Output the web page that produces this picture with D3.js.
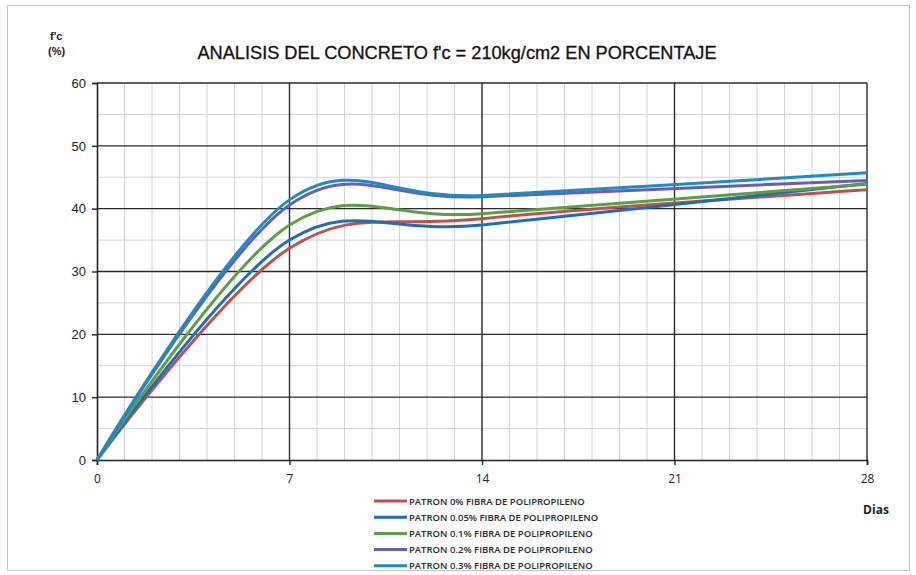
<!DOCTYPE html>
<html lang="es">
<head>
<meta charset="UTF-8">
<title>ANALISIS DEL CONCRETO f'c = 210kg/cm2 EN PORCENTAJE</title>
<script src="https://d3js.org/d3.v7.min.js"></script>
<style>
    body { margin: 0; background: #fff; }
    svg { display: block; }
</style>
</head>
<body>
<svg id="chart" width="916" height="575"></svg>
<script>
    // datos
    const dias = [0, 7, 14, 28];
    const patron0 = [0, 33.7, 38.4, 43.0];
    const patron005 = [0, 35.0, 37.4, 44.0];
    const patron01 = [0, 37.4, 39.2, 43.9];
    const patron02 = [0, 40.6, 41.9, 44.5];
    const patron03 = [0, 41.4, 42.1, 45.7];
    const nombres = [
        "PATRON 0% FIBRA DE POLIPROPILENO",
        "PATRON 0.05% FIBRA DE POLIPROPILENO",
        "PATRON 0.1% FIBRA DE POLIPROPILENO",
        "PATRON 0.2% FIBRA DE POLIPROPILENO",
        "PATRON 0.3% FIBRA DE POLIPROPILENO"
    ];
    const xTicks = [0, 7, 14, 21, 28];
    const yTicks = [0, 10, 20, 30, 40, 50, 60];

    const colores = ["#c0504d", "#1f6db8", "#5a9e46", "#6a5db2", "#1b8cc6"];
    const series = [patron0, patron005, patron01, patron02, patron03];

    const svg = d3.select("#chart");

    // marco
    svg.append("rect")
       .attr("x", 7.5).attr("y", 5.5)
       .attr("width", 902).attr("height", 565)
       .attr("fill", "#fff")
       .attr("stroke", "#c4c4c4");

    const x = d3.scaleLinear().domain([0, 28]).range([97, 867]);
    const y = d3.scaleLinear().domain([0, 60]).range([460, 83]);

    // rejilla menor
    const grid = svg.append("g");
    grid.selectAll(".vmin")
        .data(d3.range(1, 28).filter(d => d % 7 !== 0))
        .enter().append("line")
        .attr("x1", d => x(d)).attr("x2", d => x(d))
        .attr("y1", y(0)).attr("y2", y(60))
        .attr("stroke", "#d4d4d4").attr("stroke-width", 1);
    grid.selectAll(".hmin")
        .data(d3.range(5, 60, 10))
        .enter().append("line")
        .attr("x1", x(0)).attr("x2", x(28))
        .attr("y1", d => y(d)).attr("y2", d => y(d))
        .attr("stroke", "#d4d4d4").attr("stroke-width", 1);

    // rejilla mayor
    grid.selectAll(".vmaj")
        .data(xTicks.slice(1))
        .enter().append("line")
        .attr("x1", d => x(d)).attr("x2", d => x(d))
        .attr("y1", y(0)).attr("y2", y(60))
        .attr("stroke", "#2a2a2a").attr("stroke-width", 1.4);
    grid.selectAll(".hmaj")
        .data(yTicks.slice(1))
        .enter().append("line")
        .attr("x1", x(0)).attr("x2", x(28))
        .attr("y1", d => y(d)).attr("y2", d => y(d))
        .attr("stroke", "#2a2a2a").attr("stroke-width", 1.4);

    // ejes
    const yAxis = svg.append("g")
        .attr("transform", `translate(${x(0)},0)`)
        .call(d3.axisLeft(y).tickValues(yTicks).tickSize(5).tickPadding(6));
    const xAxis = svg.append("g")
        .attr("transform", `translate(0,${y(0)})`)
        .call(d3.axisBottom(x).tickValues(xTicks).tickSize(5).tickPadding(9));

    [yAxis, xAxis].forEach(a => {
        a.select(".domain").attr("stroke", "#222").attr("stroke-width", 1.6);
        a.selectAll(".tick line").attr("stroke", "#222").attr("stroke-width", 1.4);
        a.selectAll("text").attr("fill", "#222");
    });
    yAxis.selectAll("text")
         .style("font-family", "'Liberation Sans', Arial, sans-serif")
         .style("font-size", "13px");
    xAxis.selectAll("text")
         .style("font-family", "'Open Sans', sans-serif")
         .style("font-size", "12px");

    // curvas suavizadas
    const linea = d3.line()
        .x((d, i) => x(dias[i]))
        .y(d => y(d))
        .curve(d3.curveCardinal.tension(0));

    svg.append("g").selectAll("path")
       .data(series)
       .enter().append("path")
       .attr("d", linea)
       .attr("fill", "none")
       .attr("stroke", (d, i) => colores[i])
       .attr("stroke-width", 3)
       .attr("stroke-linejoin", "round");

    // titulo y etiquetas
    svg.append("text")
       .attr("x", 457).attr("y", 59)
       .attr("text-anchor", "middle")
       .style("font-family", "'Liberation Sans', Arial, sans-serif")
       .style("font-size", "18.2px")
       .attr("fill", "#111")
       .attr("stroke", "#111").attr("stroke-width", 0.3)
       .text("ANALISIS DEL CONCRETO f'c = 210kg/cm2 EN PORCENTAJE");

    svg.append("text")
       .attr("x", 50).attr("y", 40)
       .style("font-family", "'Liberation Sans', Arial, sans-serif")
       .style("font-size", "11px").style("font-weight", "bold")
       .attr("fill", "#222")
       .text("f'c");
    svg.append("text")
       .attr("x", 48).attr("y", 55)
       .style("font-family", "'Liberation Sans', Arial, sans-serif")
       .style("font-size", "11px").style("font-weight", "bold")
       .attr("fill", "#222")
       .text("(%)");

    svg.append("text")
       .attr("x", 876).attr("y", 514)
       .attr("text-anchor", "middle")
       .style("font-family", "'Open Sans', sans-serif")
       .style("font-size", "12px").style("font-weight", "bold")
       .attr("fill", "#222")
       .text("Dias");

    // leyenda
    const leyenda = svg.append("g")
        .selectAll("g")
        .data(nombres)
        .enter().append("g")
        .attr("transform", (d, i) => `translate(374,${501 + i * 16.2})`);
    leyenda.append("line")
        .attr("x1", 0).attr("x2", 33)
        .attr("stroke", (d, i) => colores[i])
        .attr("stroke-width", 3);
    leyenda.append("text")
        .attr("x", 35).attr("y", 3.5)
        .style("font-family", "'Open Sans', sans-serif")
        .style("font-size", "9.5px")
        .style("font-weight", "600")
        .attr("fill", "#2a2a2a")
        .text(d => d);
</script>
</body>
</html>
